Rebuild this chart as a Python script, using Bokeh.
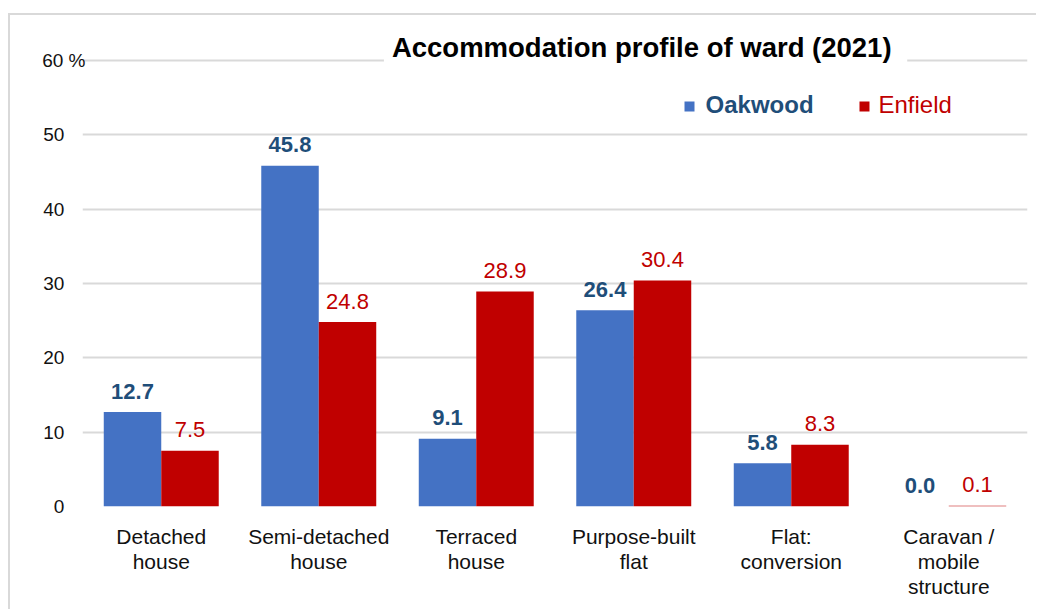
from bokeh.plotting import figure
from bokeh.layouts import column
from bokeh.models import ColumnDataSource, FactorRange, Range1d, FixedTicker, Label
from bokeh.transform import dodge
from bokeh.core.properties import value
from bokeh.embed import file_html
from bokeh.resources import INLINE

categories = ["Detached\nhouse", "Semi-detached\nhouse", "Terraced\nhouse",
              "Purpose-built\nflat", "Flat:\nconversion", "Caravan /\nmobile\nstructure"]
oakwood = [12.7, 45.8, 9.1, 26.4, 5.8, 0.0]
enfield = [7.5, 24.8, 28.9, 30.4, 8.3, 0.1]
y_ticks = [0, 10, 20, 30, 40, 50, 60]
series_names = ["Oakwood", "Enfield"]
title_text = "Accommodation  profile of ward (2021)"

BLUE = "#4472C4"
RED = "#C00000"
DARKBLUE = "#1F4E79"
FONT = "Liberation Sans"

src = ColumnDataSource(dict(
    cat=categories,
    oak=oakwood,
    enf=enfield,
    oak_lbl=[f"{v:.1f}" for v in oakwood],
    enf_lbl=[f"{v:.1f}" for v in enfield],
))

p = figure(width=1026, height=594, x_range=FactorRange(*categories, range_padding=0),
           y_range=Range1d(0, 64), output_backend="svg", toolbar_location=None,
           min_border_left=72, min_border_right=9, min_border_top=15, min_border_bottom=103)
p.outline_line_color = None
p.background_fill_color = "white"
p.border_fill_color = "white"

W = 0.365
p.vbar(x=dodge("cat", -W / 2, range=p.x_range), top="oak", width=W, source=src,
       fill_color=BLUE, line_color=None)
p.vbar(x=dodge("cat", W / 2, range=p.x_range), top="enf", width=W, source=src,
       fill_color=RED, line_color=None)

p.text(x=dodge("cat", -W / 2, range=p.x_range), y="oak", text="oak_lbl", source=src,
       text_font=value(FONT), text_font_size="22px", text_font_style="bold",
       text_color=DARKBLUE, text_align="center", text_baseline="alphabetic", y_offset=-21)
p.text(x=dodge("cat", W / 2, range=p.x_range), y="enf", text="enf_lbl", source=src,
       text_font=value(FONT), text_font_size="22px",
       text_color=RED, text_align="center", text_baseline="alphabetic", y_offset=-21)

# axes
p.yaxis.ticker = FixedTicker(ticks=y_ticks)
FS = "\u2007\u2007"
p.yaxis.major_label_overrides = {t: (f"{t} %" if t == 60 else f"{t}{FS}") for t in y_ticks}
p.yaxis.axis_line_color = None
p.yaxis.major_tick_line_color = None
p.yaxis.minor_tick_line_color = None
p.yaxis.major_tick_in = 0
p.yaxis.major_tick_out = 0
p.yaxis.major_label_text_font = FONT
p.yaxis.major_label_text_font_size = "19px"
p.yaxis.major_label_text_color = "#111111"
p.yaxis.major_label_standoff = -3

p.xaxis.axis_line_color = None
p.xaxis.major_tick_line_color = None
p.xaxis.major_tick_in = 0
p.xaxis.major_tick_out = 0
p.xaxis.major_label_text_font = FONT
p.xaxis.major_label_text_font_size = "21px"
p.xaxis.major_label_text_color = "#111111"
p.xaxis.major_label_text_line_height = 1.1
p.xaxis.major_label_standoff = 18

p.xgrid.grid_line_color = None
p.ygrid.grid_line_color = "#D9D9D9"
p.ygrid.grid_line_width = 2

# title with white background over the top gridline
p.add_layout(Label(x=3.575, y=61.75, text=title_text, text_font=FONT, text_font_size="27.5px",
                   text_font_style="bold", text_color="#000000", text_align="center",
                   text_baseline="alphabetic", background_fill_color="white",
                   background_fill_alpha=1.0, padding=8))

# legend
p.scatter(x=[3.854, 4.965], y=[53.78, 53.78], marker="square", size=10,
          fill_color=[BLUE, RED], line_color=None)
p.add_layout(Label(x=3.956, y=54.05, text=series_names[0], text_font=FONT,
                   text_font_size="24px", text_font_style="bold", text_color=DARKBLUE,
                   text_baseline="alphabetic"))
p.add_layout(Label(x=5.054, y=54.05, text=series_names[1], text_font=FONT,
                   text_font_size="24px", text_color=RED, text_baseline="alphabetic"))

layout = column(p, styles={"margin-top": "13px", "margin-left": "8px",
                           "border-left": "2px solid #D9D9D9",
                           "border-top": "2px solid #D9D9D9"})

open("out.html", "w").write(file_html(layout, INLINE))
